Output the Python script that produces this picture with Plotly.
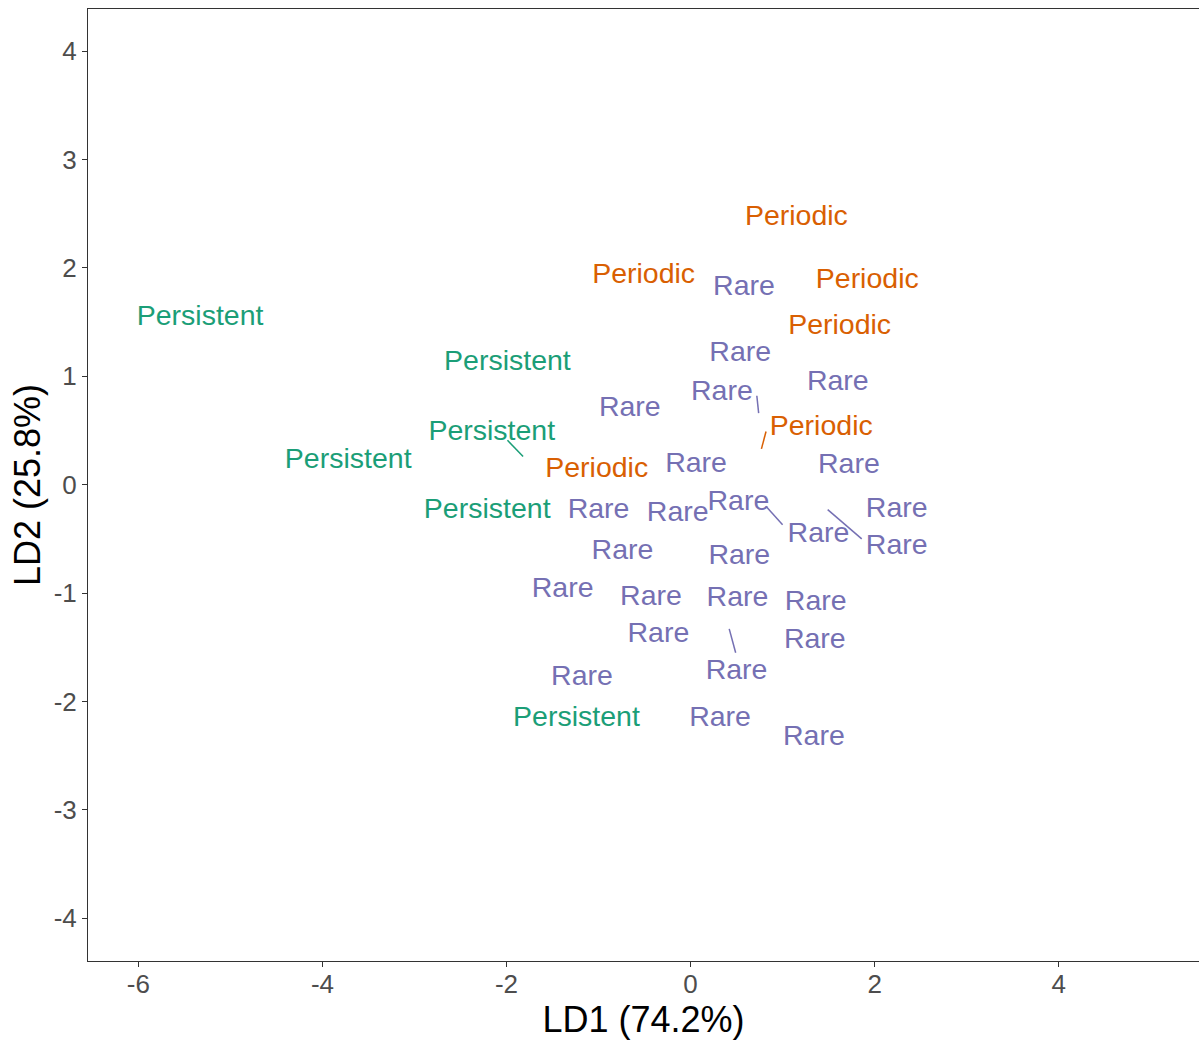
import plotly.graph_objects as go

# LDA scores: label positions on the first two discriminant axes
persistent_x = [-5.33, -1.99, -2.16, -3.72, -2.21, -1.24]
persistent_y = [1.54, 1.12, 0.48, 0.22, -0.24, -2.16]

periodic_x = [1.15, -0.51, 1.92, 1.62, 1.42, -1.02]
periodic_y = [2.46, 1.93, 1.88, 1.46, 0.52, 0.14]

rare_x = [0.58, 0.54, 1.60, 0.34, -0.66, 0.06, 1.72, 2.24, -1.00, -0.14,
          0.52, 1.39, 2.24, -0.74, 0.53, -1.39, -0.43, 0.51, 1.36, -0.35,
          1.35, 0.50, -1.18, 0.32, 1.34]
rare_y = [1.82, 1.21, 0.94, 0.85, 0.70, 0.18, 0.17, -0.23, -0.24, -0.27,
          -0.17, -0.46, -0.57, -0.62, -0.67, -0.97, -1.04, -1.05, -1.09, -1.39,
          -1.44, -1.73, -1.78, -2.16, -2.34]

# Leader segments for labels pushed away from their points (point -> label edge)
seg_group = ["Persistent", "Periodic", "Rare", "Rare", "Rare", "Rare"]
seg_x0 = [-1.82, 0.77, 0.74, 1.00, 1.49, 0.42]
seg_y0 = [0.26, 0.33, 0.66, -0.37, -0.23, -1.33]
seg_x1 = [-1.99, 0.82, 0.72, 0.82, 1.86, 0.49]
seg_y1 = [0.41, 0.49, 0.82, -0.20, -0.50, -1.55]

colors = {"Persistent": "#1B9E77", "Periodic": "#D95F02", "Rare": "#7570B3"}
font_family = "Liberation Sans, Arial, sans-serif"

fig = go.Figure()

for grp in colors:
    xs, ys = [], []
    for g, a, b, c, d in zip(seg_group, seg_x0, seg_y0, seg_x1, seg_y1):
        if g == grp:
            xs += [a, c, None]
            ys += [b, d, None]
    if xs:
        fig.add_trace(go.Scatter(x=xs, y=ys, mode="lines",
                                 line=dict(color=colors[grp], width=1.5),
                                 hoverinfo="skip", showlegend=False))

for grp, xs, ys in [("Persistent", persistent_x, persistent_y),
                    ("Periodic", periodic_x, periodic_y),
                    ("Rare", rare_x, rare_y)]:
    fig.add_trace(go.Scatter(
        x=xs, y=ys, mode="text", text=[grp] * len(xs),
        textposition="middle center",
        textfont=dict(family=font_family, size=28.5, color=colors[grp]),
        showlegend=False, name=grp))

x_ticks = [-6, -4, -2, 0, 2, 4]
y_ticks = [-4, -3, -2, -1, 0, 1, 2, 3, 4]

axis_common = dict(
    showgrid=False, zeroline=False, showline=True, linecolor="#333333",
    linewidth=1, ticks="outside", ticklen=5, tickcolor="#333333", tickwidth=1,
    tickfont=dict(family=font_family, size=26, color="#4D4D4D"),
)

fig.update_layout(
    width=1199, height=1042,
    margin=dict(l=88, r=0, t=9, b=81),
    plot_bgcolor="white", paper_bgcolor="white",
    xaxis=dict(**axis_common, range=[-6.548, 5.525], mirror=True,
               tickvals=x_ticks, ticktext=[str(v) for v in x_ticks],
               ticklabelstandoff=-5,
               title=dict(text="LD1 (74.2%)", standoff=4,
                          font=dict(family=font_family, size=36, color="black"))),
    yaxis=dict(**axis_common, range=[-4.394, 4.388],
               tickvals=y_ticks, ticktext=[str(v) for v in y_ticks],
               title=dict(text="LD2 (25.8%)", standoff=2,
                          font=dict(family=font_family, size=36, color="black"))),
)

fig.write_html("out.html")
